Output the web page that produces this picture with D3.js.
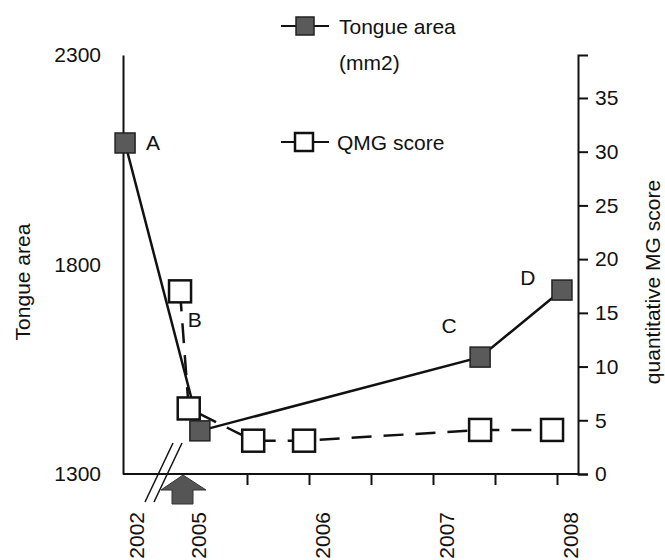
<!DOCTYPE html>
<html>
<head>
<meta charset="utf-8">
<script src="https://cdn.jsdelivr.net/npm/d3@7"></script>
<style>
  body { margin: 0; background: white; }
  text { font-family: "Liberation Sans", Arial, sans-serif; fill: #111; }
</style>
</head>
<body>
<div id="figure"></div>
<script>
// Tongue area (left axis), points A to D
const tongueYears  = [2002.1, 2005.12, 2007.38, 2008.04];
const tongueArea   = [2090, 1403, 1579, 1739];
const tongueLabels = ["A", "B", "C", "D"];

// QMG score (right axis)
const qmgYears  = [2004.76, 2005.03, 2005.55, 2005.96, 2007.38, 2007.96];
const qmgScores = [17, 6.1, 3.1, 3.1, 4.1, 4.1];

// Axes
const leftTicks      = [1300, 1800, 2300];
const rightTicks     = [0, 5, 10, 15, 20, 25, 30, 35];
const halfYearTicks  = [2005.5, 2006, 2006.5, 2007, 2007.5, 2008];
const yearTickValues = [2002, 2005, 2006, 2007, 2008];
const yearTickLabels = ["2002", "2005", "2006", "2007", "2008"];
const arrowYear = 2005;

const width = 665, height = 560;
const gauche = 123, droite = 578, haut = 55, bas = 474;

// Broken time axis: 2002 -> 2005 squeezed, then half years
const x = d3.scaleLinear().domain([2002, 2005, 2008]).range([gauche, 185, 557]);
const yArea = d3.scaleLinear().domain([1300, 2300]).range([bas, haut]);
const yQmg = d3.scaleLinear().domain([0, 39]).range([bas, haut]);

const svg = d3.select("#figure").append("svg")
  .attr("width", width)
  .attr("height", height);

svg.append("rect").attr("width", width).attr("height", height).attr("fill", "white");

/* Axes */
function dessinerAxes() {
  // left axis, labels only
  const axeGauche = svg.append("g")
    .attr("transform", `translate(${gauche},0)`)
    .call(d3.axisLeft(yArea).tickValues(leftTicks).tickSize(0).tickPadding(22).tickFormat(d3.format("d")));
  axeGauche.select(".domain").attr("stroke", "#111").attr("stroke-width", 2);

  // right axis
  const axeDroit = svg.append("g")
    .attr("transform", `translate(${droite},0)`)
    .call(d3.axisRight(yQmg).tickValues(rightTicks).tickSize(10).tickPadding(7));
  axeDroit.select(".domain").attr("stroke", "#111").attr("stroke-width", 2);
  axeDroit.selectAll(".tick line").attr("stroke", "#111").attr("stroke-width", 2);

  // bottom axis with half year ticks
  const axeBas = svg.append("g")
    .attr("transform", `translate(0,${bas})`)
    .call(d3.axisBottom(x).tickValues(halfYearTicks).tickSize(11).tickFormat(""));
  axeBas.select(".domain").attr("d", `M${gauche},0H${droite}`).attr("stroke", "#111").attr("stroke-width", 2);
  axeBas.selectAll(".tick line").attr("stroke", "#111").attr("stroke-width", 2);

  [axeGauche, axeDroit].forEach(a => a.selectAll("text").attr("font-size", 21).attr("font-family", "Liberation Sans, Arial, sans-serif").attr("fill", "#111"));

  // year labels, rotated
  svg.selectAll(".annee")
    .data(yearTickValues)
    .enter().append("text")
    .attr("class", "annee")
    .attr("transform", (d) => `translate(${x(d) + 13},512) rotate(-90)`)
    .attr("text-anchor", "end")
    .attr("dominant-baseline", "central")
    .attr("font-size", 21)
    .text((d, i) => yearTickLabels[i]);

  // axis break: two slashes
  [0, 9].forEach((dx) => {
    svg.append("line")
      .attr("x1", 145 + dx).attr("y1", 502)
      .attr("x2", 173 + dx).attr("y2", 443)
      .attr("stroke", "#111").attr("stroke-width", 1.5);
  });

  // arrow under 2005
  const ax = x(arrowYear) - 2;
  const fleche = [[ax, 475], [ax + 23, 490], [ax + 10, 490], [ax + 10, 504],
                  [ax - 11, 504], [ax - 11, 490], [ax - 22, 490]];
  svg.append("path")
    .attr("d", d3.line()(fleche) + "Z")
    .attr("fill", "#555").attr("stroke", "#333").attr("stroke-width", 1);

  // axis titles
  svg.append("text")
    .attr("transform", "translate(22,282) rotate(-90)")
    .attr("text-anchor", "middle").attr("dominant-baseline", "central")
    .attr("font-size", 21).text("Tongue area");
  svg.append("text")
    .attr("transform", "translate(652,282) rotate(-90)")
    .attr("text-anchor", "middle").attr("dominant-baseline", "central")
    .attr("font-size", 21).text("quantitative MG score");
}

/* Series */
function dessinerSeries() {
  const qmg = qmgYears.map((d, i) => [x(d), yQmg(qmgScores[i])]);
  const tongue = tongueYears.map((d, i) => [x(d), yArea(tongueArea[i])]);

  // QMG dashed line, then white squares on top
  svg.append("path")
    .attr("d", d3.line()(qmg))
    .attr("fill", "none").attr("stroke", "#111").attr("stroke-width", 2.5)
    .attr("stroke-dasharray", "20,12");

  svg.append("path")
    .attr("d", d3.line()(tongue))
    .attr("fill", "none").attr("stroke", "#111").attr("stroke-width", 2.5);

  svg.selectAll(".qmg")
    .data(qmg)
    .enter().append("rect")
    .attr("class", "qmg")
    .attr("x", (d) => d[0] - 11).attr("y", (d) => d[1] - 11)
    .attr("width", 22).attr("height", 22)
    .attr("fill", "white").attr("stroke", "#111").attr("stroke-width", 2.5);

  svg.selectAll(".tongue")
    .data(tongue)
    .enter().append("rect")
    .attr("class", "tongue")
    .attr("x", (d) => d[0] - 10).attr("y", (d) => d[1] - 10)
    .attr("width", 20).attr("height", 20)
    .attr("fill", "#5a5a5a").attr("stroke", "#222").attr("stroke-width", 1.5);

  // letters A-D
  const decalages = [[28, 0], [-5, -111], [-31, -32], [-34, -13]];
  svg.selectAll(".lettre")
    .data(tongue)
    .enter().append("text")
    .attr("class", "lettre")
    .attr("x", (d, i) => d[0] + decalages[i][0])
    .attr("y", (d, i) => d[1] + decalages[i][1])
    .attr("text-anchor", "middle").attr("dominant-baseline", "central")
    .attr("font-size", 21)
    .text((d, i) => tongueLabels[i]);
}

/* Legend */
function dessinerLegende() {
  // Tongue area
  svg.append("line").attr("x1", 281).attr("x2", 329).attr("y1", 26).attr("y2", 26)
    .attr("stroke", "#111").attr("stroke-width", 2);
  svg.append("rect").attr("x", 296).attr("y", 17).attr("width", 18).attr("height", 18)
    .attr("fill", "#5a5a5a").attr("stroke", "#222").attr("stroke-width", 1.5);
  svg.append("text").attr("x", 339).attr("y", 26).attr("dominant-baseline", "central")
    .attr("font-size", 21).text("Tongue area");
  svg.append("text").attr("x", 339).attr("y", 62).attr("dominant-baseline", "central")
    .attr("font-size", 21).text("(mm2)");

  // QMG score
  svg.append("line").attr("x1", 281).attr("x2", 329).attr("y1", 142).attr("y2", 142)
    .attr("stroke", "#111").attr("stroke-width", 2);
  svg.append("rect").attr("x", 295).attr("y", 133).attr("width", 18).attr("height", 18)
    .attr("fill", "white").attr("stroke", "#111").attr("stroke-width", 2.5);
  svg.append("text").attr("x", 337).attr("y", 142).attr("dominant-baseline", "central")
    .attr("font-size", 21).text("QMG score");
}

dessinerAxes();
dessinerSeries();
dessinerLegende();
</script>
</body>
</html>
